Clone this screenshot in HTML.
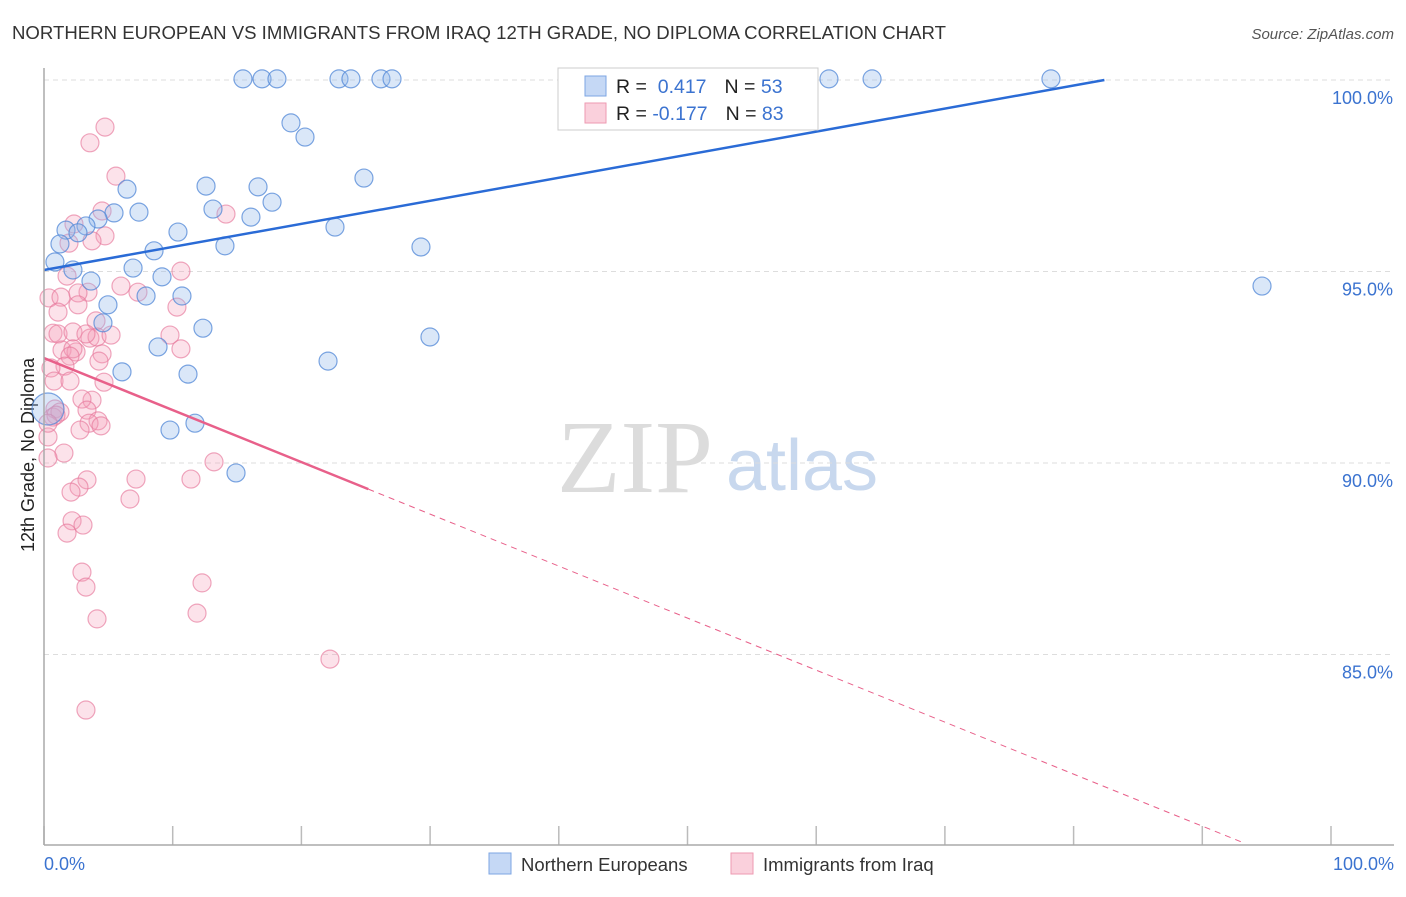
<!DOCTYPE html>
<html><head><meta charset="utf-8"><style>
body{margin:0;background:#fff;font-family:"Liberation Sans",sans-serif;}
</style></head><body>
<svg id="c" width="1406" height="892" xmlns="http://www.w3.org/2000/svg" font-family="Liberation Sans, sans-serif">
<text x="12" y="39" font-size="18.6" fill="#333">NORTHERN EUROPEAN VS IMMIGRANTS FROM IRAQ 12TH GRADE, NO DIPLOMA CORRELATION CHART</text>
<text x="1394" y="39" font-size="15" fill="#555" font-style="italic" text-anchor="end">Source: ZipAtlas.com</text>
<text x="635" y="492" font-size="104" fill="#dcdcdc" style="font-family:'Liberation Serif',serif" text-anchor="middle">ZIP</text>
<text x="802" y="490" font-size="72" fill="#c8d8ee" text-anchor="middle">atlas</text>
<text transform="translate(34,455) rotate(-90)" font-size="18" fill="#222" text-anchor="middle">12th Grade, No Diploma</text>
<g id="grid"></g><g id="pts"></g><g id="lines"></g>
<line x1="44" y1="68" x2="44" y2="845" stroke="#aaa" stroke-width="1.5"/>
<line x1="44" y1="845" x2="1394" y2="845" stroke="#aaa" stroke-width="1.5"/>
<text x="44" y="870" font-size="18" fill="#3b73d0">0.0%</text>
<text x="1394" y="870" font-size="18" fill="#3b73d0" text-anchor="end">100.0%</text>
<g>
<rect x="558" y="68" width="260" height="62" fill="#fff" stroke="#ccc"/>
<rect x="585" y="76" width="21" height="20" fill="#c5d8f5" stroke="#7da6e3"/>
<rect x="585" y="103" width="21" height="20" fill="#fad0dc" stroke="#ee9ab2"/>
<text x="616" y="93" font-size="19.5" fill="#222">R = <tspan fill="#3b73d0">&#160;0.417</tspan><tspan dx="18" fill="#222">N = </tspan><tspan fill="#3b73d0">53</tspan></text>
<text x="616" y="120" font-size="19.5" fill="#222">R = <tspan fill="#3b73d0">-0.177</tspan><tspan dx="18" fill="#222">N = </tspan><tspan fill="#3b73d0">83</tspan></text>
</g>
<g><rect x="489" y="853" width="22" height="21" fill="#c5d8f5" stroke="#7da6e3"/><text x="521" y="871" font-size="18.5" fill="#333">Northern Europeans</text></g>
<g><rect x="731" y="853" width="22" height="21" fill="#fad0dc" stroke="#ee9ab2"/><text x="763" y="871" font-size="18.5" fill="#333">Immigrants from Iraq</text></g>
</svg>
<script>
const yTicks=[100,95,90,85];
const xTickVals=[0,10,20,30,40,50,60,70,80,90,100];
const bluePx=[[243,79],[262,79],[277,79],[339,79],[351,79],[381,79],[392,79],[570,79],[829,79],[872,79],[1051,79],[291,123],[305,137],[364,178],[127,189],[206,186],[258,187],[272,202],[114,213],[139,212],[213,209],[251,217],[98,219],[86,226],[66,230],[78,233],[335,227],[178,232],[60,244],[154,251],[225,246],[421,247],[55,262],[73,270],[133,268],[91,281],[162,277],[146,296],[182,296],[1262,286],[108,305],[103,323],[203,328],[430,337],[158,347],[328,361],[122,372],[188,374],[170,430],[195,423],[236,473],[48,409]];
const pinkPx=[[105,127],[90,143],[116,176],[74,224],[102,211],[226,214],[105,236],[69,243],[92,241],[181,271],[67,276],[121,286],[138,292],[49,298],[61,297],[88,292],[78,293],[78,305],[177,307],[58,312],[96,321],[53,333],[58,334],[73,332],[90,338],[97,337],[111,335],[86,334],[170,335],[181,349],[62,350],[76,352],[73,349],[102,354],[70,356],[99,361],[65,366],[51,368],[54,381],[70,381],[104,382],[92,400],[82,399],[87,410],[55,409],[53,417],[60,412],[56,415],[98,421],[89,423],[80,430],[101,426],[48,437],[64,453],[48,458],[214,462],[136,479],[191,479],[87,480],[79,487],[71,492],[130,499],[72,521],[83,525],[67,533],[82,572],[86,587],[202,583],[97,619],[197,613],[330,659],[86,710],[48,423]];
const blueX=bluePx.map(p=>+((p[0]-44)/12.87).toFixed(2));
const blueY=bluePx.map(p=>+(100-(p[1]-80)/38.3).toFixed(2));
const pinkX=pinkPx.map(p=>+((p[0]-44)/12.87).toFixed(2));
const pinkY=pinkPx.map(p=>+(100-(p[1]-80)/38.3).toFixed(2));
const blueTrend=[95.04,0.0602];
const pinkTrend=[92.74,-0.1358];
const sx=v=>44+v*12.87, sy=v=>80+(100-v)*38.3;
const NS="http://www.w3.org/2000/svg";
function mk(t,a,p){const e=document.createElementNS(NS,t);for(const k in a)e.setAttribute(k,a[k]);p.appendChild(e);return e;}
const g=document.getElementById('grid');
yTicks.forEach(v=>{
 const l=mk('line',{x1:44,x2:1394,y1:sy(v),y2:sy(v),stroke:'#ddd','stroke-dasharray':'5,4'},g);
 
 
 const t=mk('text',{x:1393,y:sy(v)+24,'font-size':18,fill:'#3b73d0','text-anchor':'end'},g);
 t.textContent=v.toFixed(1)+'%';
 
 
});
xTickVals.forEach(v=>{
 const l=mk('line',{x1:sx(v),x2:sx(v),y1:826,y2:845,stroke:'#bbb','stroke-width':1.5},g);
 
 
});
const P=document.getElementById('pts');
pinkX.forEach((x,i)=>{
 const c=mk('circle',{cx:sx(x),cy:sy(pinkY[i]),r:9,fill:'rgba(245,160,185,0.3)',stroke:'rgba(230,120,155,0.65)','stroke-width':1.2},P);
 
 
});
blueX.forEach((x,i)=>{
 const c=mk('circle',{cx:sx(x),cy:sy(blueY[i]),r:i==blueX.length-1?16:9,fill:'rgba(150,185,235,0.35)',stroke:'rgba(80,135,215,0.75)','stroke-width':1.2},P);
 
 
});
const L=document.getElementById('lines');
const bx2=(100-blueTrend[0])/blueTrend[1];
const bl=mk('line',{x1:sx(0),y1:sy(blueTrend[0]),x2:sx(bx2),y2:sy(100),stroke:'#2a6bd6','stroke-width':2.5},L);


const pl=mk('line',{x1:sx(0),y1:sy(pinkTrend[0]),x2:sx(25.2),y2:sy(pinkTrend[0]+pinkTrend[1]*25.2),stroke:'#e8608a','stroke-width':2.5},L);


const pd=mk('line',{x1:sx(25.2),y1:sy(pinkTrend[0]+pinkTrend[1]*25.2),x2:sx(93.3),y2:sy(pinkTrend[0]+pinkTrend[1]*93.3),stroke:'#e8608a','stroke-width':1,'stroke-dasharray':'6,5'},L);


</script>
</body></html>
